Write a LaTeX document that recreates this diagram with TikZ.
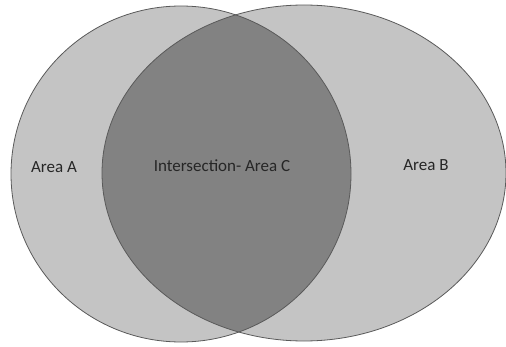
\documentclass[tikz,border=0pt]{standalone}
\usepackage{fontspec}
\setmainfont{Carlito}
\usetikzlibrary{positioning}
\definecolor{setfill}{HTML}{C4C4C4}
\definecolor{capfill}{HTML}{828282}
\definecolor{rimcol}{HTML}{5A5A5A}
\definecolor{txtcol}{HTML}{262626}
\tikzset{
  setrim/.style ={draw=rimcol, line width=0.8pt},
  label/.style ={text=txtcol, font=\fontsize{17}{20}\selectfont}
}

\begin{document}
\begin{tikzpicture}[x=1pt,y=1pt]
	\useasboundingbox (0,0) rectangle (506,346);
	\fill[color=setfill] (181,172) ellipse [x radius=170, y radius=168];
	\fill[color=setfill] (304,173) ellipse [x radius=202, y radius=168];
	\begin{scope}
		\clip (181,172) ellipse [x radius=170, y radius=168];
		\fill[color=capfill] (304,173) ellipse [x radius=202, y radius=168];
	\end{scope}
	\draw[setrim] (181,172) ellipse [x radius=170, y radius=168];
	\draw[setrim] (304,173) ellipse [x radius=202, y radius=168];
	\node[label] (areaA) at (54,179) {Area A};
	\node[label] (areaC) at (222,180) {Intersection- Area C};
	\node[label] (areaB) at (426,181) {Area B};
\end{tikzpicture}
\end{document}
